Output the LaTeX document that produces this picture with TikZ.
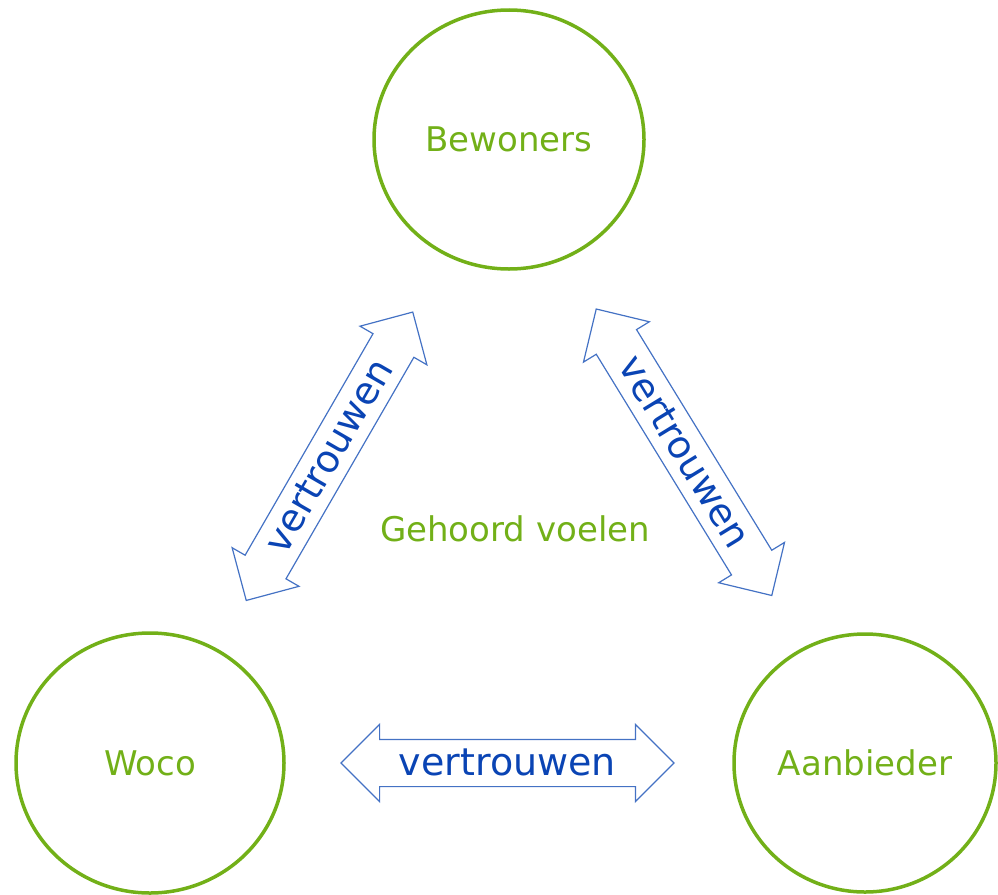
\documentclass[tikz,border=0pt]{standalone}
\usepackage{fontspec}
\setmainfont{DejaVu Sans}
\usetikzlibrary{shapes.geometric,shapes.arrows,calc}
\definecolor{leaf}{RGB}{114,176,24}
\definecolor{sky}{RGB}{68,114,196}
\definecolor{ink}{RGB}{10,68,180}
\begin{document}
\begin{tikzpicture}[x=1pt, y=-1pt,
    party/.style={ellipse, draw=leaf, line width=3.5pt, text=leaf, font=\fontsize{34}{40}\selectfont, inner sep=0pt},
    trust/.style={double arrow, draw=sky, line width=1.2pt, text=ink, font=\fontsize{38}{44}\selectfont,
      double arrow head extend=15pt, minimum height=333pt, text height=35pt, text depth=11pt,
      inner ysep=0pt, inner xsep=4pt}]
  \useasboundingbox (0,0) rectangle (998,894);
  \node[party, minimum width=270pt, minimum height=259pt] (b) at (509,139.5) {Bewoners};
  \node[party, minimum width=268pt, minimum height=260pt] (w) at (150,763) {Woco};
  \node[party, minimum width=262pt, minimum height=258pt] (a) at (865,763) {Aanbieder};
  \node[trust, rotate=60] (wb) at ($(w)!0.5!(b)+(0,5)$) {vertrouwen};
  \node[trust, rotate=-58.5, minimum height=336pt] (ba) at ($(b)!0.5!(a)+(-3,1)$) {vertrouwen};
  \node[trust] (wa) at ($(w)!0.5!(a)$) {vertrouwen};
  \node[text=leaf, font=\fontsize{34}{40}\selectfont] (g) at (515,529) {Gehoord voelen};
\end{tikzpicture}
\end{document}
